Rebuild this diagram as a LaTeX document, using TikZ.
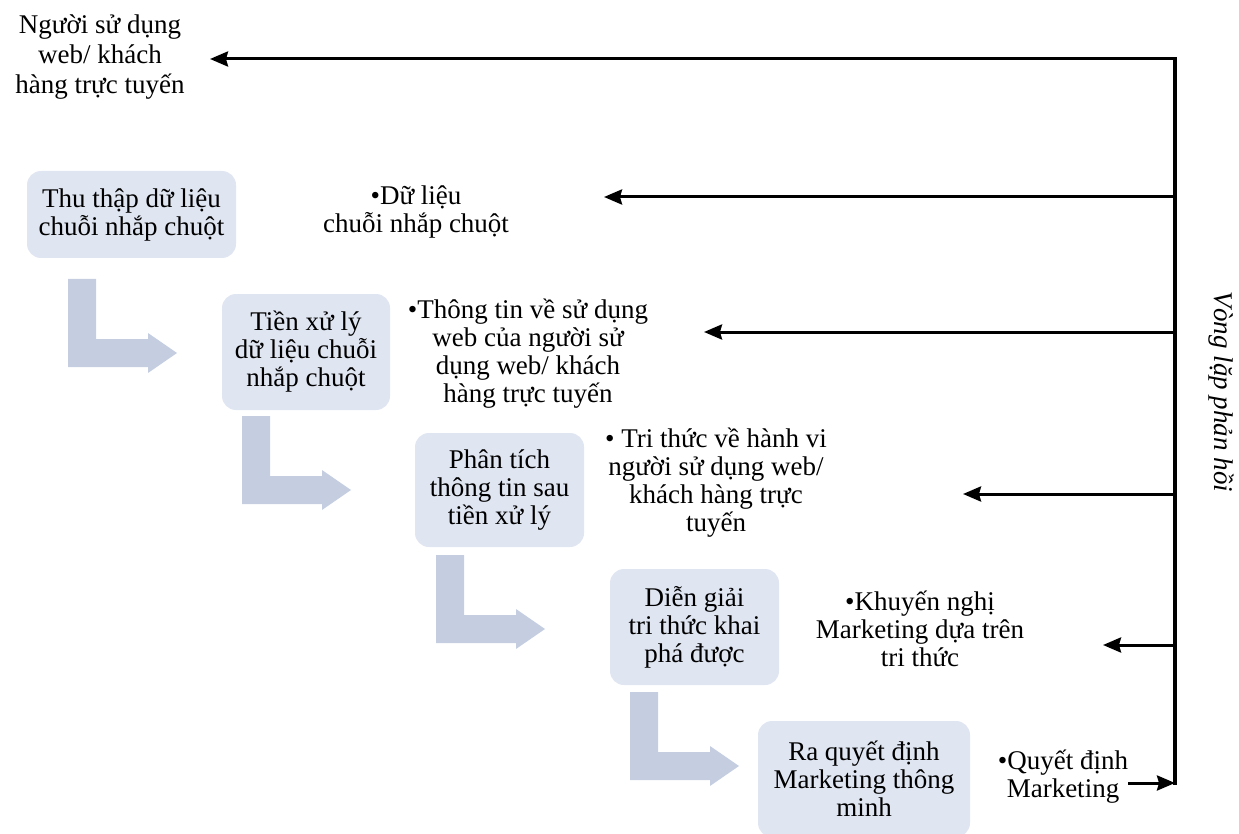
\documentclass[tikz,border=0pt]{standalone}
\usepackage{fontspec}
\setmainfont{Liberation Serif}
\usetikzlibrary{arrows.meta}
\definecolor{boxfill}{RGB}{223,229,241}
\definecolor{arrfill}{RGB}{197,206,225}
\begin{document}
\begin{tikzpicture}[x=1pt,y=-1pt,
  font=\fontsize{27}{28}\selectfont,
  stepbox/.style={rounded corners=14pt, fill=boxfill, align=center, inner sep=0pt},
  lbl/.style={align=center, inner sep=0pt},
  fb/.style={line width=3pt, -{Stealth[length=18pt,width=15pt,inset=2pt]}},
  bentarr/.pic={\fill[arrfill] (0,0) -- (28,0) -- (28,60) -- (80,60) -- (80,54) -- (109,74) -- (80,94) -- (80,88) -- (0,88) -- cycle;}]
\useasboundingbox (0,0) rectangle (1239,834);
\clip (0,0) rectangle (1239,834);

% process boxes
\node[stepbox, minimum width=209pt, minimum height=87pt] (b1) at (131.5,214.5) {Thu thập dữ liệu\\chuỗi nhắp chuột};
\node[stepbox, minimum width=168pt, minimum height=116pt] (b2) at (306,352) {Tiền xử lý\\dữ liệu chuỗi\\nhắp chuột};
\node[stepbox, minimum width=169pt, minimum height=114pt] (b3) at (499.5,490) {Phân tích\\thông tin sau\\tiền xử lý};
\node[stepbox, minimum width=169pt, minimum height=116pt] (b4) at (694.5,627) {Diễn giải\\tri thức khai\\phá được};
\node[stepbox, minimum width=212pt, minimum height=116pt] (b5) at (864,779) {Ra quyết định\\Marketing thông\\minh};

% bent arrows
\pic at (68,279) {bentarr};
\pic at (242,416) {bentarr};
\pic at (436,555) {bentarr};
\pic at (630,692) {bentarr};

% outputs
\node[lbl, font=\fontsize{27}{30}\selectfont] (u) at (100,57) {Người sử dụng\\web/ khách\\hàng trực tuyến};
\node[lbl] (l1) at (416,212) {•Dữ liệu\\chuỗi nhắp chuột};
\node[lbl] (l2) at (528,354) {•Thông tin về sử dụng\\web của người sử\\dụng web/ khách\\hàng trực tuyến};
\node[lbl] (l3) at (716,483) {• Tri thức về hành vi\\người sử dụng web/\\khách hàng trực\\tuyến};
\node[lbl] (l4) at (920,629) {•Khuyến nghị\\Marketing dựa trên\\tri thức};
\node[lbl] (l5) at (1063,777) {•Quyết định\\Marketing};
\node[lbl, rotate=-90, font=\fontsize{27}{28}\selectfont\itshape] (fbl) at (1221,392) {Vòng lặp phản hồi};

% feedback loop
\coordinate (top) at (1175,59);
\coordinate (bot) at (1175,783);
\coordinate (r1) at (1175,197);
\coordinate (r2) at (1175,332);
\coordinate (r3) at (1175,494);
\coordinate (r4) at (1175,645);
\coordinate (t0) at (210,59);
\coordinate (t1) at (604,197);
\coordinate (t2) at (704,332);
\coordinate (t3) at (963,494);
\coordinate (t4) at (1103,645);
\coordinate (q5) at (1128,783);
\draw[line width=4pt] (1175,57.5) -- (1175,784.5);
\draw[fb] (top) -- (t0);
\draw[fb] (r1) -- (t1);
\draw[fb] (r2) -- (t2);
\draw[fb] (r3) -- (t3);
\draw[fb] (r4) -- (t4);
\draw[fb] (q5) -- (bot);
\end{tikzpicture}
\end{document}
